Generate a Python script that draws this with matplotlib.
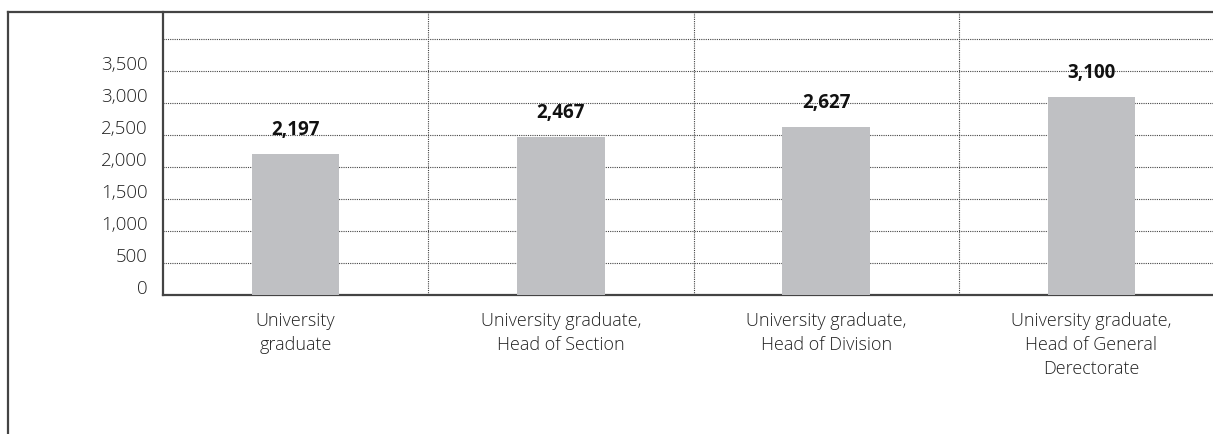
import matplotlib.pyplot as plt
from matplotlib.lines import Line2D
from matplotlib.transforms import ScaledTranslation

categories = [
    "University\ngraduate",
    "University graduate,\nHead of Section",
    "University graduate,\nHead of Division",
    "University graduate,\nHead of General\nDerectorate",
]
values = [2197, 2467, 2627, 3100]
y_ticks = [0, 500, 1000, 1500, 2000, 2500, 3000, 3500, 4000]
y_labels = ["0", "500", "1,000", "1,500", "2,000", "2,500", "3,000", "3,500", ""]

plt.rcParams["font.family"] = ["Open Sans", "DejaVu Sans"]

W, H = 1213, 434
fig = plt.figure(figsize=(W / 100, H / 100), dpi=100)
ax = fig.add_axes([163 / W, 1 - 295 / H, 1061 / W, 283 / H])

x = list(range(len(categories)))
ax.bar(x, values, width=0.33, color="#bfc0c3", zorder=3)
for xi, v in zip(x, values):
    ax.annotate(f"{v:,}", (xi, v), xytext=(0, 10), textcoords="offset points",
                ha="center", va="bottom", fontsize=13.5, fontweight="bold",
                color="#111111", zorder=4)

ax.set_xlim(-0.5, 3.5)
ax.set_ylim(0, 4420)
ax.set_yticks(y_ticks)
ax.set_yticklabels(y_labels, fontsize=13.5, color="#222222", fontweight="light")
ax.set_xticks(x)
ax.set_xticklabels(categories, fontsize=13, color="#222222", linespacing=1.45,
                   fontweight="light")
ax.tick_params(axis="y", length=0, pad=11)
ax.tick_params(axis="x", length=0, pad=12)

# y labels sit a bit above their grid lines
for lab in ax.get_yticklabels():
    lab.set_transform(lab.get_transform() + ScaledTranslation(0, 0.08, fig.dpi_scale_trans))

ax.yaxis.grid(True, linestyle=(0, (1, 1)), linewidth=0.8, color="#444444", zorder=0)
for sep in [0.5, 1.5, 2.5]:
    ax.axvline(sep, linestyle=(0, (1, 1)), linewidth=0.8, color="#444444", zorder=0)

for side in ["top", "right"]:
    ax.spines[side].set_visible(False)
for side in ["left", "bottom"]:
    ax.spines[side].set_linewidth(1.6)
    ax.spines[side].set_color("#444444")

# outer frame
fx, fy = 8 / W, 1 - 12 / H
fig.add_artist(Line2D([fx, fx], [0, fy], color="#444444", linewidth=1.6))
fig.add_artist(Line2D([fx, 1], [fy, fy], color="#444444", linewidth=1.6))

fig.savefig("out.png", dpi=100)
